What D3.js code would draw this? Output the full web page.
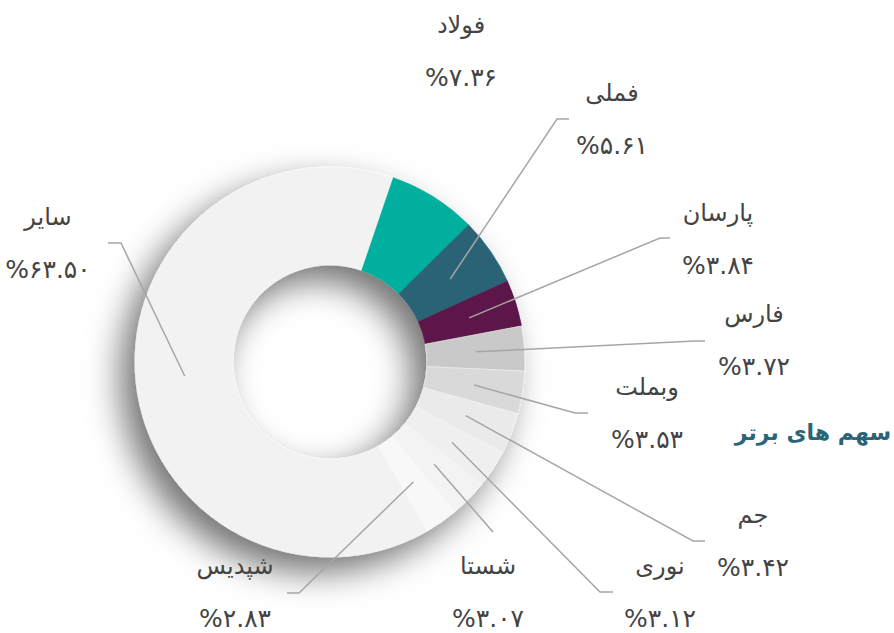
<!DOCTYPE html>
<html>
<head>
<meta charset="utf-8">
<script src="https://cdn.jsdelivr.net/npm/d3@7"></script>
<style>
  html, body { margin: 0; padding: 0; background: #ffffff; }
  svg { display: block; }
</style>
</head>
<body>
<svg id="chart" width="894" height="633"></svg>
<script>
// ---- data ----
const categories = ["فولاد", "فملی", "پارسان", "فارس", "وبملت", "جم", "نوری", "شستا", "شپدیس", "سایر"];
const values = [7.36, 5.61, 3.84, 3.72, 3.53, 3.42, 3.12, 3.07, 2.83, 63.50];
const colors = ["#00af9e", "#2a6476", "#5b1848", "#c9c9c9", "#d9d9d9", "#eaeaea", "#efefef", "#f3f3f3", "#f8f8f8", "#f2f2f2"];
const title = "سهم های برتر";

// label layout: label centre x, label elbow y, connector elbow x/y, horizontal tail length
const labelLayout = [
  { lx: 461, ly: 51,  ex: null, ey: null, tail: 0 },
  { lx: 612, ly: 119, ex: 557, ey: 119, tail: 12 },
  { lx: 718, ly: 239, ex: 660, ey: 238, tail: 10 },
  { lx: 754, ly: 340, ex: 695, ey: 341, tail: 10 },
  { lx: 647, ly: 413, ex: 575, ey: 413, tail: 13 },
  { lx: 753, ly: 541, ex: 693, ey: 541, tail: 12 },
  { lx: 660, ly: 592, ex: 600, ey: 592, tail: 13 },
  { lx: 488, ly: 592, ex: 493, ey: 532, tail: 0 },
  { lx: 235, ly: 592, ex: 299, ey: 593, tail: -12 },
  { lx: 48,  ly: 243, ex: 121, ey: 243, tail: -13 }
];

const toFa = s => s.replace(/\d/g, d => "۰۱۲۳۴۵۶۷۸۹"[+d]);
const pctText = v => "%" + toFa(v.toFixed(2));

// ---- chart ----
const svg = d3.select("#chart");
const cx = 330, cy = 362, R = 195, r = 97;
const a0 = 18.8 * Math.PI / 180;

const defs = svg.append("defs");
const f = defs.append("filter").attr("id", "shadow")
  .attr("filterUnits", "userSpaceOnUse")
  .attr("x", -320).attr("y", -320).attr("width", 640).attr("height", 640);
f.append("feGaussianBlur").attr("in", "SourceAlpha").attr("stdDeviation", 17).attr("result", "b");
f.append("feOffset").attr("in", "b").attr("dx", -14).attr("dy", 15).attr("result", "o");
f.append("feFlood").attr("flood-color", "#000").attr("flood-opacity", 0.55).attr("result", "c");
f.append("feComposite").attr("in", "c").attr("in2", "o").attr("operator", "in").attr("result", "s");
const m = f.append("feMerge");
m.append("feMergeNode").attr("in", "s");
m.append("feMergeNode").attr("in", "SourceGraphic");

const data = categories.map((c, i) => ({ name: c, value: values[i], color: colors[i], layout: labelLayout[i] }));
const pie = d3.pie().sort(null).value(d => d.value).startAngle(a0).endAngle(a0 + 2 * Math.PI);
const arcs = pie(data);
const arc = d3.arc().innerRadius(r).outerRadius(R);

const g = svg.append("g").attr("transform", `translate(${cx},${cy})`);
g.append("g").attr("filter", "url(#shadow)")
  .selectAll("path").data(arcs).join("path")
  .attr("d", arc)
  .attr("fill", d => d.data.color)
  .attr("stroke", d => d.index >= 3 ? "#ffffff" : d.data.color)
  .attr("stroke-width", d => d.index >= 3 ? 0.4 : 0.5);

// connectors
const lines = svg.append("g");
arcs.forEach(d => {
  const L = d.data.layout;
  if (L.ex === null) return;
  const c = arc.centroid(d);
  const pts = [[cx + c[0], cy + c[1]], [L.ex, L.ey]];
  if (L.tail) pts.push([L.ex + L.tail, L.ey]);
  lines.append("path")
    .attr("d", d3.line()(pts))
    .attr("fill", "none")
    .attr("stroke", "#a6a6a6")
    .attr("stroke-width", 1.5);
});

// labels
const labels = svg.append("g")
  .attr("font-family", "'DejaVu Sans', sans-serif")
  .attr("fill", "#444444")
  .attr("text-anchor", "middle");
arcs.forEach(d => {
  const L = d.data.layout;
  labels.append("text").attr("x", L.lx).attr("y", L.ly - 18).attr("font-size", 24).text(d.data.name);
  labels.append("text").attr("x", L.lx).attr("y", L.ly + 35).attr("font-size", 25).text(pctText(d.data.value));
});

svg.append("text")
  .attr("x", 813).attr("y", 440)
  .attr("text-anchor", "middle")
  .attr("font-family", "'DejaVu Sans', sans-serif")
  .attr("font-weight", "bold")
  .attr("font-size", 22)
  .attr("fill", "#2a6476")
  .text(title);
</script>
</body>
</html>
